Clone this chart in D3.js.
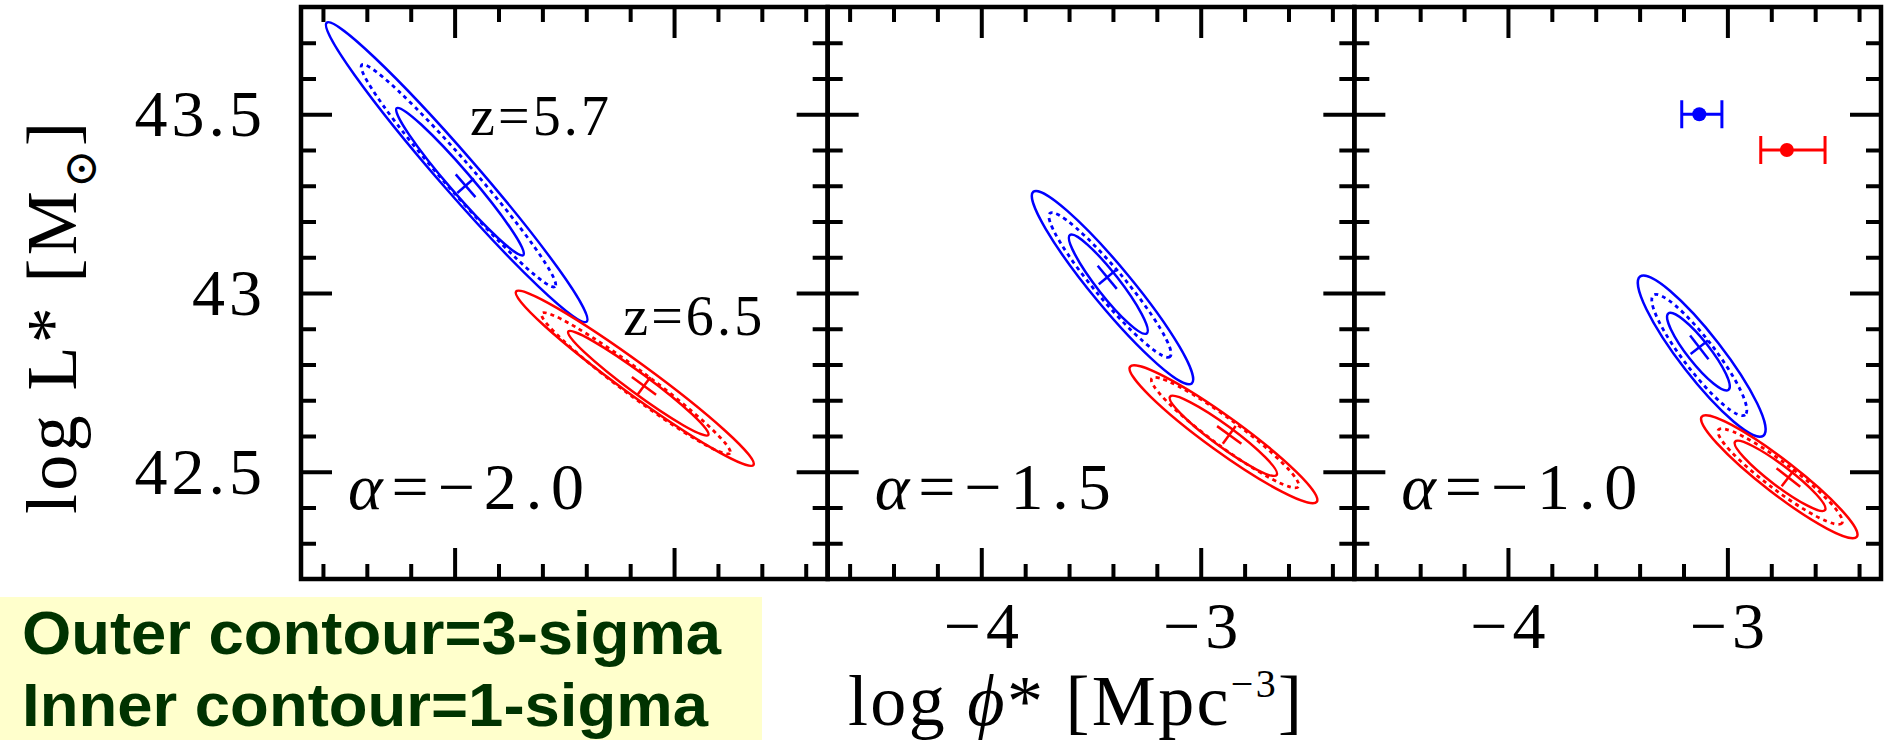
<!DOCTYPE html>
<html>
<head>
<meta charset="utf-8">
<script src="https://cdn.jsdelivr.net/npm/d3@7"></script>
<style>
  body { margin: 0; background: #fff; }
  svg { display: block; }
  .serif { font-family: "Liberation Serif", "DejaVu Serif", serif; fill: #000; }
</style>
</head>
<body>
<svg id="chart" width="1884" height="740"></svg>
<script>
// ---- data ----
const alphaLabels = ['\u22122.0', '\u22121.5', '\u22121.0'];
const xMajor = [-4, -3];
const xMinor = [-4.6, -4.4, -4.2, -3.8, -3.6, -3.4, -3.2, -2.8, -2.6, -2.4];
const yMajor = [42.5, 43, 43.5];
const yMinor = [42.3, 42.4, 42.6, 42.7, 42.8, 42.9, 43.1, 43.2, 43.3, 43.4, 43.6, 43.7];

// contours per panel: [phi_end1, L_end1, phi_end2, L_end2, minor/major ratio]
const z57Outer  = [[-4.583, 43.756, -3.398, 42.920, 0.095], [-3.763, 43.283, -3.041, 42.747, 0.16], [-3.398, 43.046, -2.836, 42.601, 0.21]];
const z57Dotted = [[-4.423, 43.638, -3.542, 43.018, 0.10],  [-3.687, 43.223, -3.140, 42.822, 0.16], [-3.337, 42.994, -2.919, 42.659, 0.21]];
const z57Inner  = [[-4.264, 43.517, -3.687, 43.106, 0.115], [-3.596, 43.162, -3.246, 42.887, 0.18], [-3.269, 42.943, -2.995, 42.729, 0.23]];
const z57Best   = [[-3.950, 43.300], [-3.426, 43.044], [-3.128, 42.848]];

const z65Outer  = [[-3.720, 43.004, -2.638, 42.519, 0.105], [-3.322, 42.794, -2.471, 42.416, 0.15], [-3.117, 42.654, -2.410, 42.318, 0.17]];
const z65Dotted = [[-3.603, 42.943, -2.745, 42.552, 0.11],  [-3.223, 42.761, -2.555, 42.458, 0.15], [-3.041, 42.617, -2.478, 42.356, 0.175]];
const z65Inner  = [[-3.482, 42.892, -2.844, 42.603, 0.115], [-3.140, 42.710, -2.654, 42.491, 0.16], [-2.965, 42.584, -2.555, 42.393, 0.18]];
const z65Best   = [[-3.137, 42.740], [-2.870, 42.603], [-2.722, 42.484]];

// points with x error bars shown in the last panel
const errPhi = [-3.128, -2.729];
const errL   = [43.5, 43.4];
const errLo  = [-3.208, -2.848];
const errHi  = [-3.025, -2.555];
const errColor = ['#0000ff', '#ff0000'];

const zLabels = [['z=5.7', -3.93, 43.445], ['z=6.5', -3.232, 42.886]];

// ---- layout ----
const svg = d3.select('#chart');
const plotLeft = 301, plotRight = 1881, plotTop = 7, plotBottom = 579;
const panelW = (plotRight - plotLeft) / 3;

svg.append('rect').attr('width', 1884).attr('height', 740).attr('fill', '#fff');

const y = d3.scaleLinear().domain([42.2, 43.8]).range([plotBottom, plotTop]);
const xScales = [0, 1, 2].map(i => d3.scaleLinear()
    .domain([-4.7, -2.3])
    .range([plotLeft + i * panelW, plotLeft + (i + 1) * panelW]));

function styleAxis(sel) {
    sel.select('.domain').remove();
    sel.selectAll('line').attr('stroke', '#000').attr('stroke-width', 4);
}

function drawEllipse(g, x, c, color, dashed) {
    const x1 = x(c[0]), y1 = y(c[1]), x2 = x(c[2]), y2 = y(c[3]);
    const cx = (x1 + x2) / 2, cy = (y1 + y2) / 2;
    const a = Math.hypot(x2 - x1, y2 - y1) / 2;
    const ang = Math.atan2(y2 - y1, x2 - x1) * 180 / Math.PI;
    g.append('ellipse')
        .attr('cx', cx).attr('cy', cy)
        .attr('rx', a).attr('ry', a * c[4])
        .attr('transform', `rotate(${ang},${cx},${cy})`)
        .attr('fill', 'none')
        .attr('stroke', color)
        .attr('stroke-width', dashed ? 2.8 : 2.5)
        .attr('stroke-dasharray', dashed ? '4,4' : null);
}

function drawBest(g, x, p, ref, color) {
    // small cross aligned with the contour axes
    const dx = x(ref[2]) - x(ref[0]), dy = y(ref[3]) - y(ref[1]);
    const len = Math.hypot(dx, dy);
    const ux = dx / len, uy = dy / len;
    const px = x(p[0]), py = y(p[1]);
    g.append('line')
        .attr('x1', px - ux * 15).attr('y1', py - uy * 15)
        .attr('x2', px + ux * 15).attr('y2', py + uy * 15)
        .attr('stroke', color).attr('stroke-width', 2.5);
    g.append('line')
        .attr('x1', px + uy * 11).attr('y1', py - ux * 11)
        .attr('x2', px - uy * 11).attr('y2', py + ux * 11)
        .attr('stroke', color).attr('stroke-width', 2.5);
}

xScales.forEach((x, i) => {
    const x0 = x.range()[0], x1 = x.range()[1];
    const g = svg.append('g');

    // contours
    drawEllipse(g, x, z57Outer[i], '#0000ff', false);
    drawEllipse(g, x, z57Dotted[i], '#0000ff', true);
    drawEllipse(g, x, z57Inner[i], '#0000ff', false);
    drawBest(g, x, z57Best[i], z57Outer[i], '#0000ff');

    drawEllipse(g, x, z65Outer[i], '#ff0000', false);
    drawEllipse(g, x, z65Dotted[i], '#ff0000', true);
    drawEllipse(g, x, z65Inner[i], '#ff0000', false);
    drawBest(g, x, z65Best[i], z65Outer[i], '#ff0000');

    // ticks on all four sides, pointing inward
    [[xMinor, 15], [xMajor, 31]].forEach(([vals, size]) => {
        svg.append('g').attr('transform', `translate(0,${plotBottom})`)
            .call(d3.axisBottom(x).tickValues(vals).tickSize(-size).tickSizeOuter(0).tickFormat(''))
            .call(styleAxis);
        svg.append('g').attr('transform', `translate(0,${plotTop})`)
            .call(d3.axisTop(x).tickValues(vals).tickSize(-size).tickSizeOuter(0).tickFormat(''))
            .call(styleAxis);
    });
    [[yMinor, 15], [yMajor, 31]].forEach(([vals, size]) => {
        svg.append('g').attr('transform', `translate(${x0},0)`)
            .call(d3.axisLeft(y).tickValues(vals).tickSize(-size).tickSizeOuter(0).tickFormat(''))
            .call(styleAxis);
        svg.append('g').attr('transform', `translate(${x1},0)`)
            .call(d3.axisRight(y).tickValues(vals).tickSize(-size).tickSizeOuter(0).tickFormat(''))
            .call(styleAxis);
    });

    // frame
    svg.append('rect')
        .attr('x', x0).attr('y', plotTop)
        .attr('width', x1 - x0).attr('height', plotBottom - plotTop)
        .attr('fill', 'none').attr('stroke', '#000').attr('stroke-width', 4.5);

    // alpha label
    const t = svg.append('text').attr('class', 'serif')
        .attr('x', x0 + 47).attr('y', 509)
        .attr('font-size', 66)
        .attr('textLength', 236).attr('lengthAdjust', 'spacing');
    t.append('tspan').attr('font-style', 'italic').text('\u03b1');
    t.append('tspan').text('=' + alphaLabels[i]);

    // x tick labels (the first panel's are hidden behind the note box)
    if (i > 0) {
        svg.selectAll(null).data(xMajor).enter().append('text')
            .attr('class', 'serif')
            .attr('x', d => x(d)).attr('y', 648)
            .attr('text-anchor', 'middle')
            .attr('font-size', 66)
            .attr('letter-spacing', 5)
            .attr('dx', 2.5)
            .text(d => '\u2212' + Math.abs(d));
    }
});

// y tick labels (left panel)
svg.selectAll(null).data(yMajor).enter().append('text')
    .attr('class', 'serif')
    .attr('x', 262 + 4).attr('y', d => y(d) + 22)
    .attr('text-anchor', 'end')
    .attr('font-size', 66)
    .attr('letter-spacing', 4)
    .text(d => d3.format('')(d));

// redshift labels
const x1s = xScales[0];
zLabels.forEach(([txt, phi, L]) => {
    svg.append('text').attr('class', 'serif')
        .attr('x', x1s(phi)).attr('y', y(L) + 1)
        .attr('font-size', 56)
        .attr('textLength', 139).attr('lengthAdjust', 'spacing')
        .text(txt);
});

// error bar points (last panel)
const x3 = xScales[2];
errPhi.forEach((phi, k) => {
    const g = svg.append('g').attr('stroke', errColor[k]).attr('stroke-width', 3);
    const py = y(errL[k]);
    g.append('line').attr('x1', x3(errLo[k])).attr('x2', x3(errHi[k])).attr('y1', py).attr('y2', py);
    g.append('line').attr('x1', x3(errLo[k])).attr('x2', x3(errLo[k])).attr('y1', py - 14).attr('y2', py + 14);
    g.append('line').attr('x1', x3(errHi[k])).attr('x2', x3(errHi[k])).attr('y1', py - 14).attr('y2', py + 14);
    svg.append('circle').attr('cx', x3(phi)).attr('cy', py).attr('r', 7).attr('fill', errColor[k]);
});

// axis titles
const yt = svg.append('text').attr('class', 'serif')
    .attr('transform', 'translate(76,318) rotate(-90)')
    .attr('text-anchor', 'middle')
    .attr('font-size', 72)
    .attr('textLength', 392).attr('lengthAdjust', 'spacing');
yt.append('tspan').text('log L* [M');
yt.append('tspan').attr('font-size', 46).attr('dy', 20).text('\u2299');
yt.append('tspan').attr('dy', -20).text(']');

const xt = svg.append('text').attr('class', 'serif')
    .attr('x', 1075).attr('y', 725)
    .attr('text-anchor', 'middle')
    .attr('font-size', 72)
    .attr('textLength', 454).attr('lengthAdjust', 'spacing');
xt.append('tspan').text('log ');
xt.append('tspan').attr('font-style', 'italic').text('\u03d5');
xt.append('tspan').text('* [Mpc');
xt.append('tspan').attr('font-size', 40).attr('dy', -28).text('\u22123');
xt.append('tspan').attr('dy', 28).text(']');

// note box
svg.append('rect').attr('x', 0).attr('y', 597).attr('width', 762).attr('height', 143).attr('fill', '#ffffcc');
const notes = [['Outer contour=3-sigma', 654, 699], ['Inner contour=1-sigma', 726, 686]];
notes.forEach(([txt, by, w]) => {
    svg.append('text')
        .attr('x', 22).attr('y', by)
        .attr('font-family', '"Liberation Sans", Arial, sans-serif')
        .attr('font-weight', 'bold')
        .attr('font-size', 62)
        .attr('fill', '#003300')
        .attr('textLength', w).attr('lengthAdjust', 'spacingAndGlyphs')
        .text(txt);
});
</script>
</body>
</html>
